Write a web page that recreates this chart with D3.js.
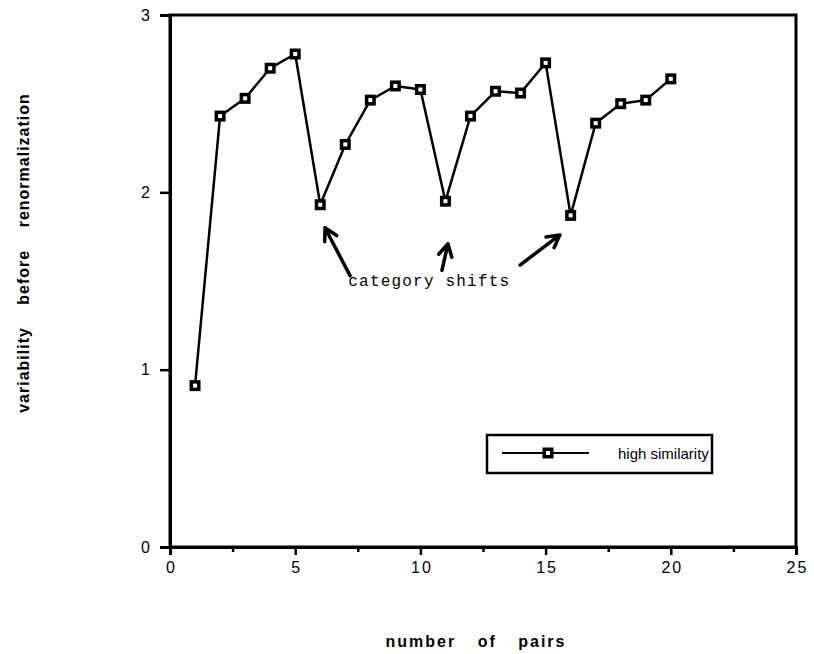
<html>
<head>
<script src="https://d3js.org/d3.v7.min.js"></script>
<style>
  body { margin: 0; background: #fff; }
  text { font-family: Arial, "Liberation Sans", Helvetica, sans-serif; fill: #000; }
</style>
</head>
<body>
<svg width="814" height="654"></svg>
<script>
// data
const pairs = [1, 2, 3, 4, 5, 6, 7, 8, 9, 10, 11, 12, 13, 14, 15, 16, 17, 18, 19, 20];
const variability = [0.91, 2.43, 2.53, 2.70, 2.78, 1.93, 2.27, 2.52, 2.60, 2.58,
                     1.95, 2.43, 2.57, 2.56, 2.73, 1.87, 2.39, 2.50, 2.52, 2.64];
const xTicks = [0, 5, 10, 15, 20, 25];
const xMinorTicks = [2.5, 7.5, 12.5, 17.5, 22.5];
const yTicks = [0, 1, 2, 3];
// arrows pointing at the category shifts: [pairs, variability]
const arrowTails = [[7.19, 1.53], [10.86, 1.56], [13.98, 1.59]];
const arrowHeads = [[6.19, 1.80], [11.1, 1.71], [15.57, 1.76]];
const annotation = "category shifts";
const seriesName = "high similarity";

const svg = d3.select("svg");
const x = d3.scaleLinear().domain([0, 25]).range([170, 796]);
const y = d3.scaleLinear().domain([0, 3]).range([547, 15]);

// frame
svg.append("rect")
  .attr("x", x(0)).attr("y", y(3))
  .attr("width", x(25) - x(0)).attr("height", y(0) - y(3))
  .attr("fill", "none").attr("stroke", "#000").attr("stroke-width", 3);

// x axis
const xAxis = svg.append("g").attr("transform", "translate(0," + y(0) + ")")
  .call(d3.axisBottom(x).tickValues(xTicks).tickSize(8).tickPadding(7));
svg.append("g").attr("transform", "translate(0," + y(0) + ")")
  .call(d3.axisBottom(x).tickValues(xMinorTicks).tickSize(5).tickFormat(""))
  .call(g => g.select(".domain").remove());
xAxis.selectAll("text")
  .attr("font-size", 16).style("font-size", "16px")
  .style("letter-spacing", "2px").attr("dx", 1);

// y axis
const yAxis = svg.append("g").attr("transform", "translate(" + x(0) + ",0)")
  .call(d3.axisLeft(y).tickValues(yTicks).tickFormat(d3.format("d")).tickSize(10).tickPadding(10));
yAxis.selectAll("text").attr("font-size", 16).style("font-size", "16px");

svg.selectAll(".domain").attr("stroke-width", 3);
svg.selectAll(".tick line").attr("stroke-width", 2.5);

// series line
const line = d3.line()
  .x((d, i) => x(pairs[i]))
  .y(d => y(d));
svg.append("path")
  .datum(variability)
  .attr("d", line)
  .attr("fill", "none")
  .attr("stroke", "#000")
  .attr("stroke-width", 2.5);

function marker(sel) {
  sel.append("rect").attr("x", -5.5).attr("y", -5.5).attr("width", 11).attr("height", 11).attr("fill", "#000");
  sel.append("rect").attr("x", -2).attr("y", -2).attr("width", 4).attr("height", 4).attr("fill", "#fff");
}
svg.selectAll(".pt")
  .data(variability)
  .enter()
  .append("g")
  .attr("class", "pt")
  .attr("transform", (d, i) => "translate(" + x(pairs[i]) + "," + y(d) + ")")
  .call(marker);

// arrows
arrowTails.forEach(function(t, i) {
  const h = arrowHeads[i];
  const x1 = x(t[0]), y1 = y(t[1]), x2 = x(h[0]), y2 = y(h[1]);
  const ang = Math.atan2(y2 - y1, x2 - x1);
  const len = 14, spread = 0.5;
  const p = d3.path();
  p.moveTo(x1, y1); p.lineTo(x2, y2);
  p.moveTo(x2 - len * Math.cos(ang - spread), y2 - len * Math.sin(ang - spread));
  p.lineTo(x2, y2);
  p.lineTo(x2 - len * Math.cos(ang + spread), y2 - len * Math.sin(ang + spread));
  svg.append("path").attr("d", p.toString())
    .attr("fill", "none").attr("stroke", "#000").attr("stroke-width", 3.5)
    .attr("stroke-linecap", "round").attr("stroke-linejoin", "round");
});

svg.append("text")
  .attr("x", x(7.12)).attr("y", y(1.47))
  .style("font-family", "'Liberation Mono', 'DejaVu Sans Mono', monospace")
  .style("font-size", "16px")
  .style("letter-spacing", "1.2px")
  .text(annotation);

// legend
const lg = svg.append("g").attr("transform", "translate(487,435)");
lg.append("rect").attr("width", 225).attr("height", 38)
  .attr("fill", "#fff").attr("stroke", "#000").attr("stroke-width", 2.5);
lg.append("line").attr("x1", 15).attr("x2", 102).attr("y1", 18).attr("y2", 18)
  .attr("stroke", "#000").attr("stroke-width", 2);
lg.append("g").attr("transform", "translate(61,18)").call(marker);
lg.append("text").attr("x", 131).attr("y", 24)
  .style("font-size", "15px").text(seriesName);

// axis titles
svg.append("text")
  .attr("x", 476).attr("y", 647)
  .attr("text-anchor", "middle")
  .style("font-size", "16px").style("font-weight", "bold")
  .style("letter-spacing", "2px").style("word-spacing", "15px")
  .text("number of pairs");

svg.append("text")
  .attr("transform", "translate(29,253) rotate(-90)")
  .attr("text-anchor", "middle")
  .style("font-size", "16px").style("font-weight", "bold")
  .style("letter-spacing", "1px").style("word-spacing", "17px")
  .text("variability before renormalization");
</script>
</body>
</html>
